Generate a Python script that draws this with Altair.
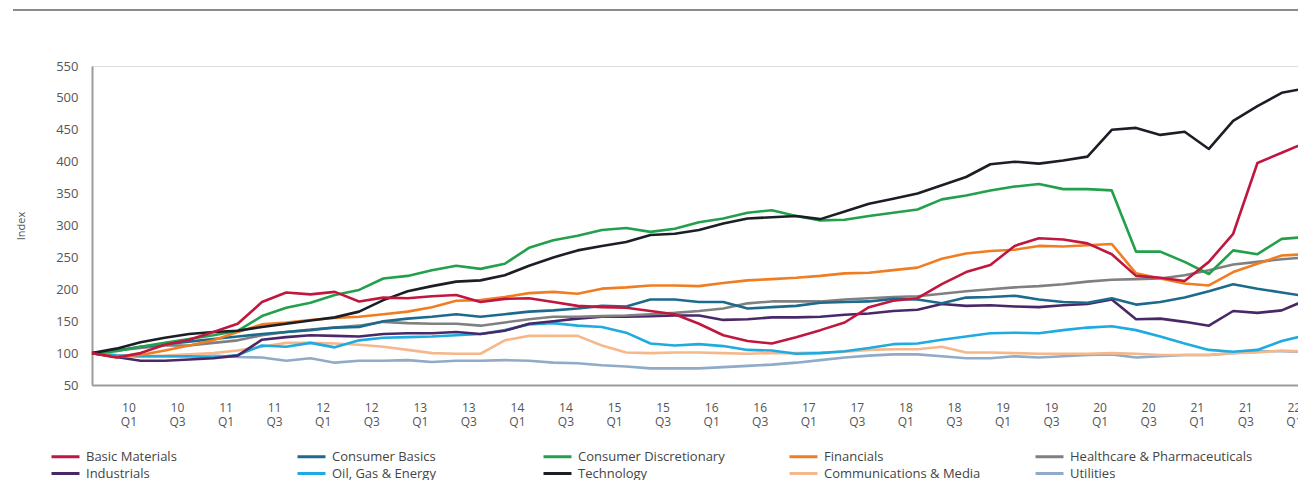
import json
import altair as alt
import pandas as pd

# quarter index 0 = 2009 Q4 ... 50 = 2022 Q2
quarters = ["09 Q4",
            "10 Q1", "10 Q2", "10 Q3", "10 Q4", "11 Q1", "11 Q2", "11 Q3", "11 Q4",
            "12 Q1", "12 Q2", "12 Q3", "12 Q4", "13 Q1", "13 Q2", "13 Q3", "13 Q4",
            "14 Q1", "14 Q2", "14 Q3", "14 Q4", "15 Q1", "15 Q2", "15 Q3", "15 Q4",
            "16 Q1", "16 Q2", "16 Q3", "16 Q4", "17 Q1", "17 Q2", "17 Q3", "17 Q4",
            "18 Q1", "18 Q2", "18 Q3", "18 Q4", "19 Q1", "19 Q2", "19 Q3", "19 Q4",
            "20 Q1", "20 Q2", "20 Q3", "20 Q4", "21 Q1", "21 Q2", "21 Q3", "21 Q4",
            "22 Q1", "22 Q2"]

tick_labels = ["10 Q1", "10 Q3", "11 Q1", "11 Q3", "12 Q1", "12 Q3", "13 Q1", "13 Q3",
               "14 Q1", "14 Q3", "15 Q1", "15 Q3", "16 Q1", "16 Q3", "17 Q1", "17 Q3",
               "18 Q1", "18 Q3", "19 Q1", "19 Q3", "20 Q1", "20 Q3", "21 Q1", "21 Q3",
               "22 Q1"]

basic_materials = [100, 93, 100, 113, 121, 133, 146, 180, 195, 192,
                   196, 181, 187, 186, 189, 191, 180, 185, 186, 180,
                   174, 172, 171, 166, 161, 146, 128, 119, 115, 125,
                   136, 148, 172, 182, 186, 208, 227, 238, 268, 280,
                   278, 272, 255, 221, 218, 213, 243, 287, 398, 414, 430]
consumer_basics = [100, 104, 110, 114, 118, 122, 126, 130, 133, 136,
                   140, 141, 150, 154, 157, 161, 157, 161, 165, 167,
                   170, 174, 173, 184, 184, 180, 180, 170, 172, 174,
                   179, 180, 181, 185, 184, 178, 187, 188, 190, 184,
                   180, 179, 186, 176, 180, 187, 197, 208, 201, 195, 189]
consumer_discretionary = [100, 103, 110, 116, 122, 128, 135, 158, 171, 179,
                          191, 199, 217, 221, 230, 237, 232, 240, 265, 277,
                          284, 293, 296, 290, 295, 305, 311, 320, 324, 315,
                          308, 309, 315, 320, 325, 341, 347, 355, 361, 365,
                          357, 357, 355, 259, 259, 243, 224, 261, 255, 279, 282]
financials = [100, 94, 97, 104, 112, 120, 133, 145, 148, 152,
              155, 157, 161, 165, 172, 182, 183, 188, 194, 196,
              193, 201, 203, 206, 206, 205, 210, 214, 216, 218,
              221, 225, 226, 230, 234, 248, 256, 260, 262, 268,
              267, 269, 271, 225, 217, 209, 206, 227, 240, 253, 255]
healthcare = [100, 104, 108, 112, 112, 116, 120, 128, 133, 137,
              140, 143, 149, 147, 146, 146, 143, 148, 153, 157,
              157, 158, 159, 161, 163, 166, 170, 178, 181, 181,
              181, 184, 186, 188, 189, 193, 197, 200, 203, 205,
              208, 212, 215, 216, 217, 222, 230, 239, 243, 247, 250]
industrials = [100, 94, 88, 88, 90, 92, 96, 121, 125, 128,
               127, 126, 130, 131, 131, 133, 130, 135, 146, 150,
               154, 157, 157, 158, 159, 159, 152, 153, 156, 156,
               157, 160, 162, 166, 168, 177, 174, 175, 173, 172,
               175, 177, 184, 153, 154, 149, 143, 166, 163, 167, 183]
oil_gas_energy = [100, 96, 95, 95, 95, 93, 97, 112, 110, 116,
                  109, 120, 124, 125, 126, 128, 130, 136, 145, 147,
                  143, 141, 132, 115, 112, 114, 111, 105, 104, 99,
                  100, 103, 108, 114, 115, 121, 126, 131, 132, 131,
                  136, 140, 142, 136, 126, 115, 105, 102, 105, 119, 128]
technology = [100, 107, 117, 124, 130, 133, 135, 141, 146, 151,
              156, 165, 183, 197, 205, 212, 214, 222, 237, 250,
              261, 268, 274, 285, 287, 293, 303, 311, 313, 315,
              310, 322, 334, 342, 350, 363, 376, 396, 400, 397,
              402, 408, 450, 453, 442, 447, 420, 464, 487, 508, 515]
communications_media = [100, 96, 95, 96, 98, 100, 104, 110, 116, 116,
                        115, 113, 110, 105, 100, 99, 99, 120, 127, 127,
                        127, 112, 101, 100, 101, 101, 100, 99, 100, 100,
                        101, 102, 105, 106, 106, 110, 101, 101, 100, 99,
                        99, 99, 100, 99, 97, 97, 97, 100, 101, 104, 102]
utilities = [100, 97, 95, 95, 95, 96, 94, 93, 88, 92,
             85, 88, 88, 89, 86, 88, 88, 89, 88, 85,
             84, 81, 79, 76, 76, 76, 78, 80, 82, 85,
             89, 93, 96, 98, 98, 95, 92, 92, 95, 93,
             95, 97, 98, 93, 95, 97, 97, 100, 103, 103, 102]

legend_order = ["Basic Materials", "Consumer Basics", "Consumer Discretionary",
                "Financials", "Healthcare & Pharmaceuticals",
                "Industrials", "Oil, Gas & Energy", "Technology",
                "Communications & Media", "Utilities"]
legend_colors = ["#c0173f", "#1d6b8c", "#22a04c", "#f07d22", "#808080",
                 "#4a2868", "#1fabdf", "#1c1e26", "#f6b88a", "#8fabc8"]

series = {
    "Basic Materials": basic_materials,
    "Consumer Basics": consumer_basics,
    "Consumer Discretionary": consumer_discretionary,
    "Financials": financials,
    "Healthcare & Pharmaceuticals": healthcare,
    "Industrials": industrials,
    "Oil, Gas & Energy": oil_gas_energy,
    "Technology": technology,
    "Communications & Media": communications_media,
    "Utilities": utilities,
}
# drawing order (bottom to top)
draw_order = ["Utilities", "Communications & Media", "Oil, Gas & Energy", "Industrials",
              "Healthcare & Pharmaceuticals", "Consumer Basics", "Financials",
              "Consumer Discretionary", "Technology", "Basic Materials"]

rows = []
for name in draw_order:
    vals = series[name]
    assert len(vals) == len(quarters), name
    for i, v in enumerate(vals):
        rows.append({"series": name, "t": i, "quarter": quarters[i], "value": v})
df = pd.DataFrame(rows)

tick_pos = [i * 2 + 1.5 for i in range(len(tick_labels))]
label_expr = "split(" + json.dumps(tick_labels).replace('"', "'") + \
    "[round((datum.value - 1.5) / 2)], ' ')"

FONT = "Open Sans"
PLOT_W = 1206
STEP = 24.28  # pixels per quarter in the reference
X_MAX = PLOT_W / STEP  # the right edge of the picture cuts the last quarter

lines = alt.Chart(df).mark_line(strokeWidth=2.6, strokeJoin="round").encode(
    x=alt.X("t:Q",
            scale=alt.Scale(domain=[0, X_MAX], nice=False, zero=False),
            axis=alt.Axis(values=tick_pos, labelExpr=label_expr, title=None,
                          grid=False, ticks=False, domainColor="#9c9c9c", domainWidth=2,
                          labelColor="#555555", labelFontSize=12, labelPadding=17,
                          labelLineHeight=14, labelAngle=0, labelFlush=False,
                          labelOverlap=False, labelFont=FONT)),
    y=alt.Y("value:Q",
            scale=alt.Scale(domain=[50, 550], nice=False, zero=False),
            axis=alt.Axis(values=list(range(50, 551, 50)), title="Index",
                          grid=False, ticks=False, domainColor="#9c9c9c", domainWidth=2,
                          labelColor="#555555", labelFontSize=13, labelPadding=14,
                          labelFont=FONT, titleFont=FONT, titleFontSize=11,
                          titleFontWeight="normal", titleColor="#555555",
                          titlePadding=29)),
    color=alt.Color("series:N",
                    scale=alt.Scale(domain=legend_order, range=legend_colors),
                    legend=alt.Legend(title=None, orient="none", direction="horizontal",
                                      legendX=-35, legendY=382,
                                      columns=5, symbolType="M-2,0H2", symbolSize=196,
                                      symbolStrokeWidth=3, symbolFillColor="transparent",
                                      labelFontSize=13,
                                      labelFont=FONT, labelColor="#444444",
                                      labelLimit=400, labelOffset=12,
                                      columnPadding=22, rowPadding=1,
                                      gridAlign="all")),
    detail="series:N",
)

top_rule = alt.Chart(pd.DataFrame({"k": [0]})).mark_rule(
    color="#8c8c8c", strokeWidth=2
).encode(x=alt.value(-79), x2=alt.value(PLOT_W), y=alt.value(-56))

chart = alt.layer(lines, top_rule).properties(
    width=PLOT_W,
    height=319,
    autosize=alt.AutoSizeParams(type="none"),
    padding={"left": 84, "top": 58, "right": 0, "bottom": 95},
).configure_view(stroke=None).configure(font=FONT)

chart.save("out.html", embed_options={"renderer": "svg", "actions": False})
